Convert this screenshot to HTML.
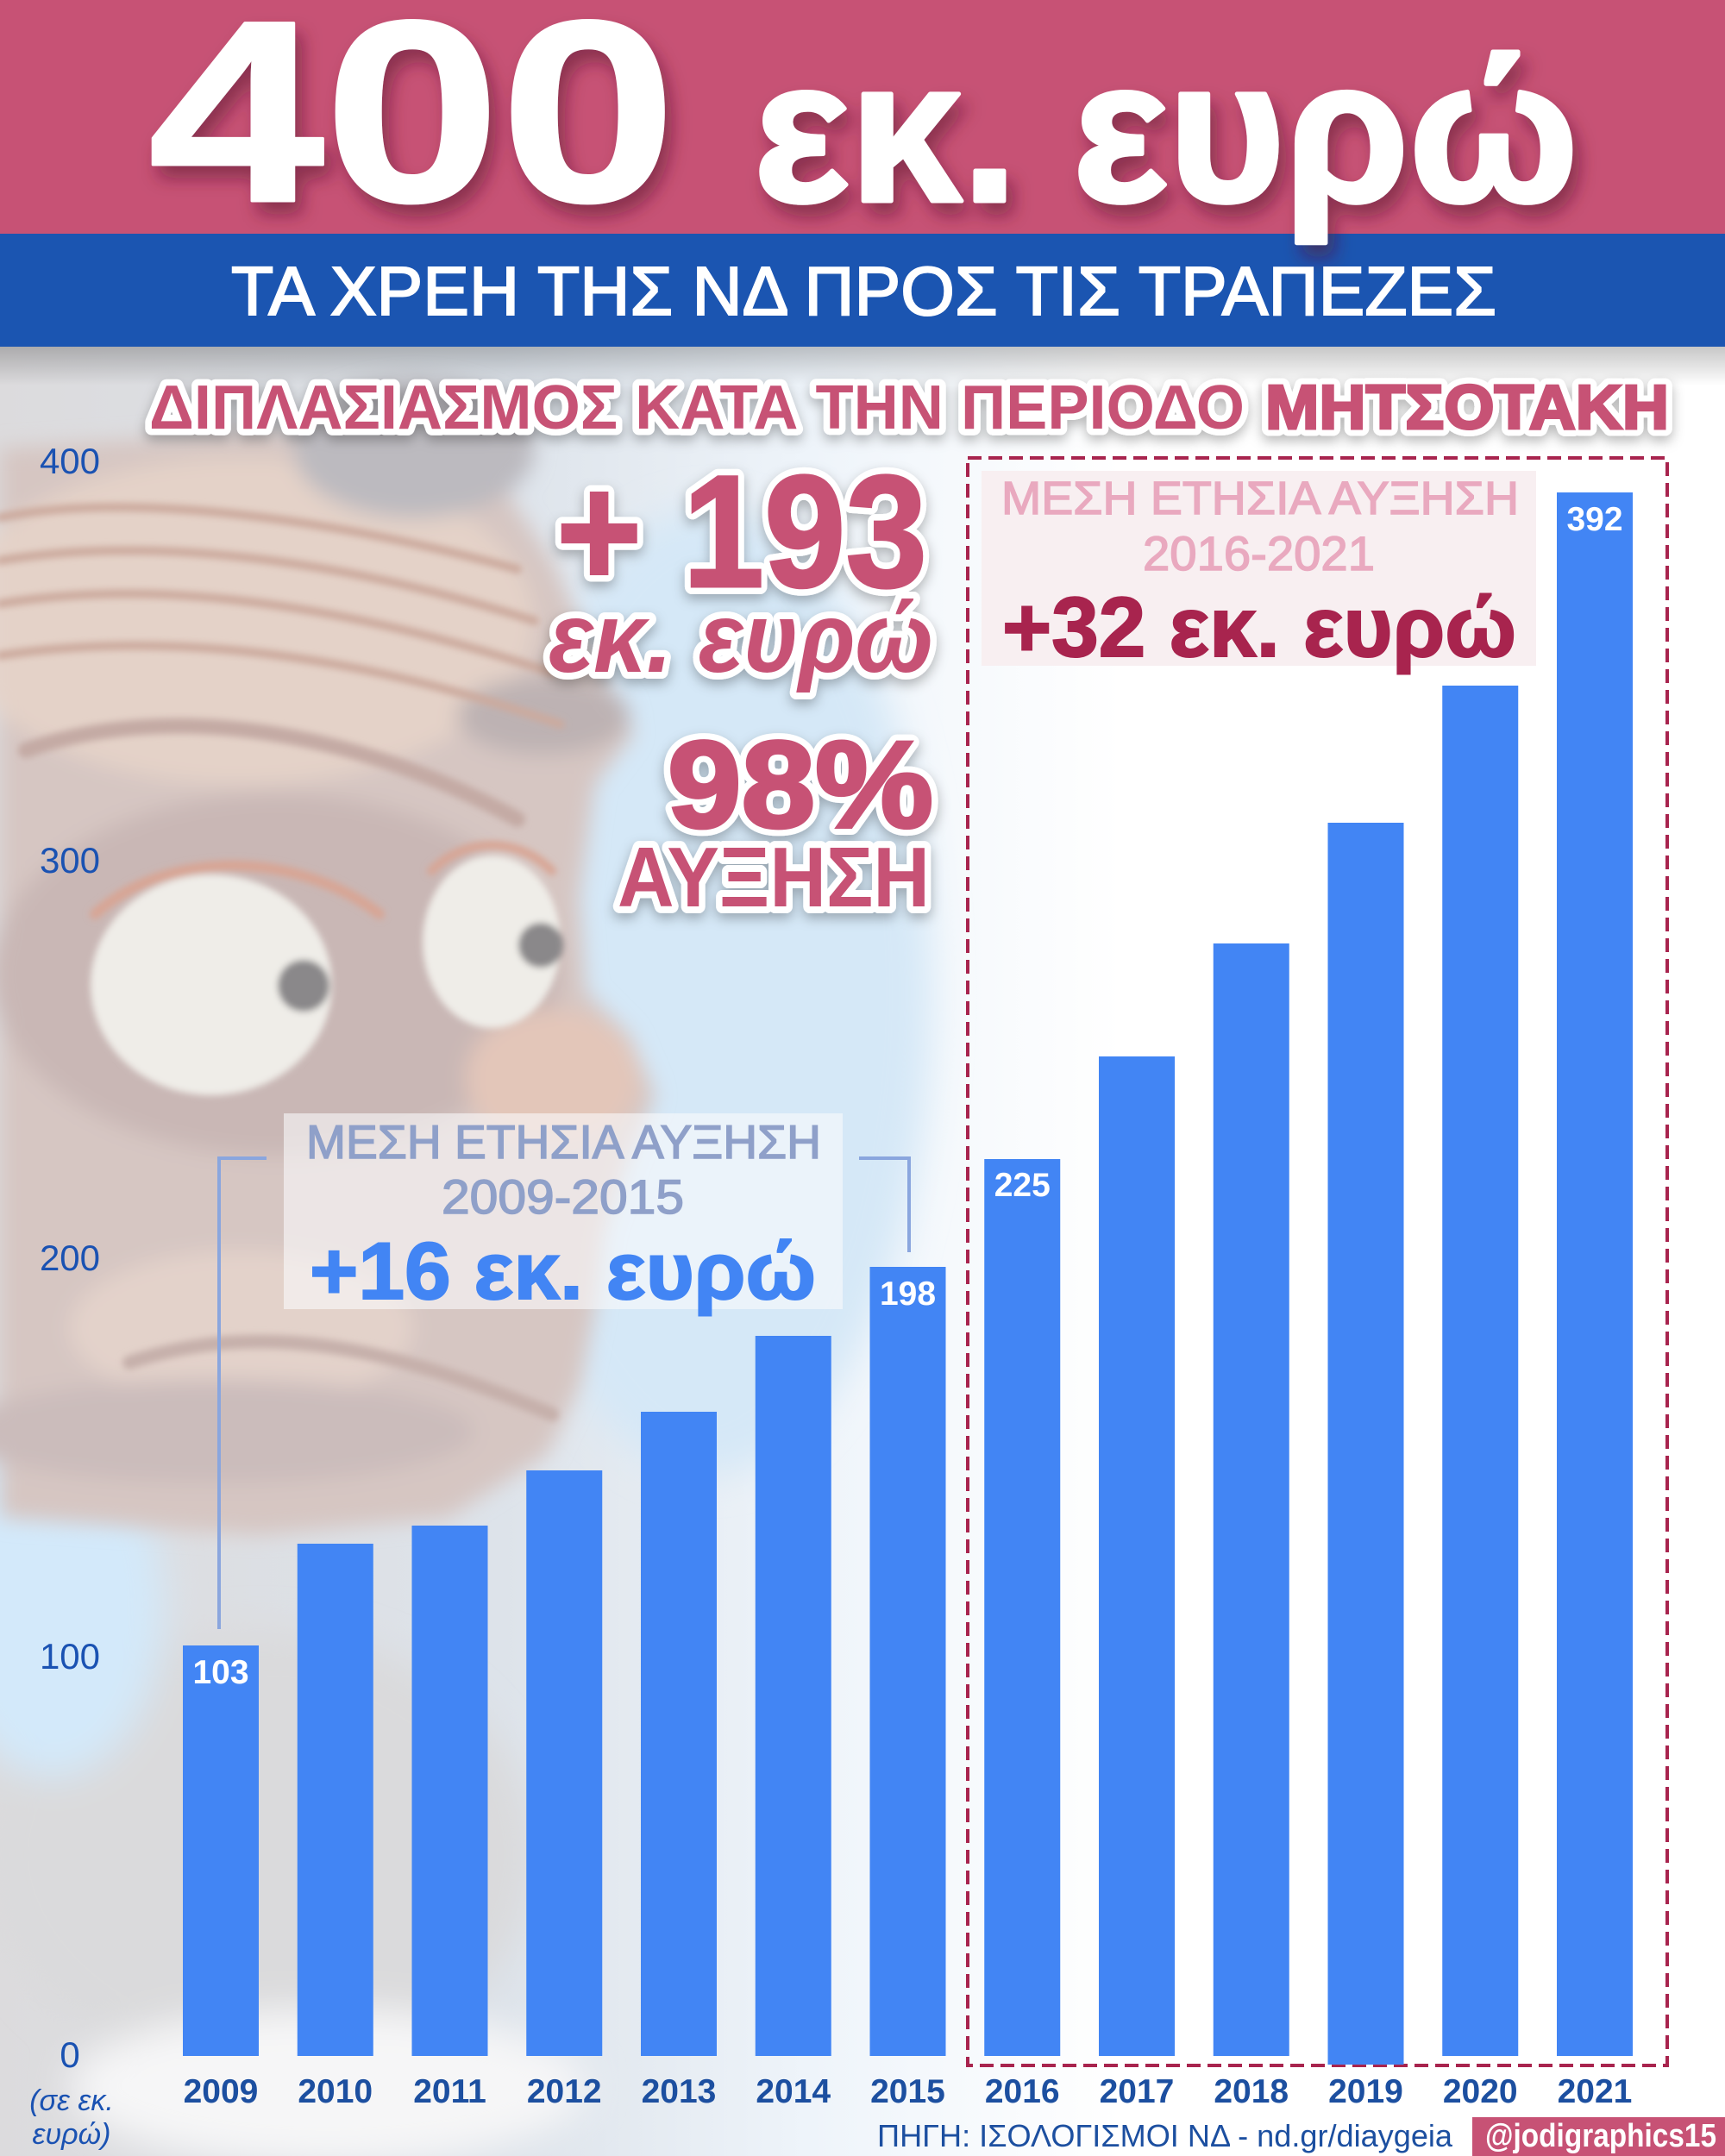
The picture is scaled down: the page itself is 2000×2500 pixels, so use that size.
<!DOCTYPE html>
<html>
<head>
<meta charset="utf-8">
<style>
html,body{margin:0;padding:0;background:#fff;}
svg{display:block;}
text{font-family:"Liberation Sans","DejaVu Sans",sans-serif;}
</style>
</head>
<body>
<svg xmlns="http://www.w3.org/2000/svg" width="2000" height="2500" viewBox="0 0 2000 2500">
<defs>
  <filter id="bl" x="-30%" y="-30%" width="160%" height="160%"><feGaussianBlur stdDeviation="22"/></filter>
  <filter id="bl3" x="-30%" y="-30%" width="160%" height="160%"><feGaussianBlur stdDeviation="12"/></filter>
  <filter id="bl2" x="-30%" y="-30%" width="160%" height="160%"><feGaussianBlur stdDeviation="4"/></filter>
  <filter id="sh" x="-10%" y="-30%" width="120%" height="180%"><feDropShadow dx="0" dy="6" stdDeviation="7" flood-color="#000" flood-opacity="0.28"/></filter>
  <filter id="tsh" x="-10%" y="-20%" width="120%" height="160%"><feDropShadow dx="8" dy="14" stdDeviation="10" flood-color="#5a1030" flood-opacity="0.55"/></filter>
  <linearGradient id="bgH" x1="0" y1="0" x2="1" y2="0">
    <stop offset="0" stop-color="#dcdbdd"/>
    <stop offset="0.45" stop-color="#dde3ea"/>
    <stop offset="0.72" stop-color="#eef4fa"/>
    <stop offset="1" stop-color="#ffffff"/>
  </linearGradient>
  <linearGradient id="shd" x1="0" y1="0" x2="0" y2="1">
    <stop offset="0" stop-color="#000" stop-opacity="0.22"/>
    <stop offset="1" stop-color="#000" stop-opacity="0"/>
  </linearGradient>
</defs>

<!-- background -->
<rect x="0" y="0" width="2000" height="2500" fill="#ffffff"/>
<rect x="0" y="402" width="1300" height="2098" fill="url(#bgH)"/>
<g filter="url(#bl)">
  <ellipse cx="820" cy="1150" rx="260" ry="560" fill="#d5e8f7"/>
  <ellipse cx="300" cy="2150" rx="320" ry="260" fill="#dadadc"/>
  <ellipse cx="60" cy="1860" rx="130" ry="200" fill="#d3e9fa"/>
  <ellipse cx="380" cy="2420" rx="300" ry="90" fill="#f6f6f7"/>
</g>
<g filter="url(#bl3)">
  <path d="M0 520 L300 500 L560 530 L640 650 L690 760 L735 850 L690 910 L672 1040 L680 1150 L730 1200 L760 1270 L730 1340 L700 1430 L690 1520 L673 1605 L635 1686 L520 1760 L300 1780 L0 1760 Z" fill="#d6c6c2"/>
  <ellipse cx="280" cy="720" rx="340" ry="190" fill="#e6d3c9" opacity="0.85"/>
  <ellipse cx="480" cy="520" rx="140" ry="80" fill="#bcbabf"/>
  <ellipse cx="630" cy="830" rx="100" ry="45" fill="#bdb2b3"/>
  <ellipse cx="320" cy="1130" rx="330" ry="210" fill="#c9b7b5"/>
  <ellipse cx="640" cy="1250" rx="100" ry="80" fill="#e3c6b9"/>
  <ellipse cx="280" cy="1540" rx="200" ry="90" fill="#e3d2ca"/>
  <ellipse cx="250" cy="1660" rx="300" ry="60" fill="#cbbcbb"/>
</g>
<g filter="url(#bl2)" fill="none" stroke-linecap="round">
  <path d="M0 600 C150 570 380 600 600 660" stroke="#ccaa9e" stroke-width="10"/>
  <path d="M0 650 C180 620 400 650 620 720" stroke="#ccaa9e" stroke-width="10"/>
  <path d="M0 700 C180 670 400 700 640 780" stroke="#ccaa9e" stroke-width="10"/>
  <path d="M0 760 C200 730 420 760 650 840" stroke="#ccaa9e" stroke-width="10"/>
  <path d="M30 870 C200 810 420 850 600 950" stroke="#c4aaa4" stroke-width="18"/>
  <path d="M110 1060 C200 980 350 990 440 1060" stroke="#d8a594" stroke-width="12"/>
  <path d="M500 1010 C540 970 600 970 640 1010" stroke="#d8a594" stroke-width="10"/>
  <path d="M150 1580 C300 1530 450 1560 640 1640" stroke="#c6b0ab" stroke-width="16"/>
  <ellipse cx="245" cy="1142" rx="140" ry="128" fill="#efede8" stroke="none"/>
  <ellipse cx="570" cy="1092" rx="80" ry="100" fill="#efede8" stroke="none"/>
  <circle cx="352" cy="1143" r="30" fill="#8a888a" stroke="none"/>
  <circle cx="627" cy="1096" r="26" fill="#8a888a" stroke="none"/>
</g>

<!-- header -->
<rect x="0" y="402" width="2000" height="45" fill="url(#shd)"/>
<rect x="0" y="0" width="2000" height="272" fill="#c75275"/>
<rect x="0" y="271" width="2000" height="131" fill="#1b55b1"/>
<g filter="url(#tsh)" fill="#ffffff" stroke="#ffffff" stroke-linejoin="round" font-weight="bold" style="font-family:'DejaVu Sans','Liberation Sans',sans-serif">
  <text x="172" y="233" font-size="300" stroke-width="3" textLength="612" lengthAdjust="spacingAndGlyphs">400</text>
  <text x="874" y="233" font-size="235" stroke-width="5" textLength="306" lengthAdjust="spacingAndGlyphs">εκ.</text>
  <text x="1244" y="233" font-size="235" stroke-width="5" textLength="586" lengthAdjust="spacingAndGlyphs">ευρώ</text>
</g>
<text x="268" y="365" font-size="80" fill="#ffffff" stroke="#ffffff" stroke-width="2" textLength="1467" lengthAdjust="spacingAndGlyphs">ΤΑ ΧΡΕΗ ΤΗΣ ΝΔ ΠΡΟΣ ΤΙΣ ΤΡΑΠΕΖΕΣ</text>

<!-- subtitle pink outlined -->
<g filter="url(#sh)">
  <text x="173" y="497" font-size="72" font-weight="bold" fill="#fff" stroke="#fff" stroke-width="15" stroke-linejoin="round" textLength="1270" lengthAdjust="spacingAndGlyphs">ΔΙΠΛΑΣΙΑΣΜΟΣ ΚΑΤΑ ΤΗΝ ΠΕΡΙΟΔΟ</text>
  <text x="1467" y="497" font-size="72" font-weight="bold" fill="#fff" stroke="#fff" stroke-width="17" stroke-linejoin="round" textLength="468" lengthAdjust="spacingAndGlyphs">ΜΗΤΣΟΤΑΚΗ</text>
</g>
<text x="173" y="497" font-size="72" font-weight="bold" fill="#c75275" textLength="1270" lengthAdjust="spacingAndGlyphs">ΔΙΠΛΑΣΙΑΣΜΟΣ ΚΑΤΑ ΤΗΝ ΠΕΡΙΟΔΟ</text>
<text x="1467" y="497" font-size="72" font-weight="bold" fill="#c75275" stroke="#c75275" stroke-width="3" textLength="468" lengthAdjust="spacingAndGlyphs">ΜΗΤΣΟΤΑΚΗ</text>

<!-- y axis labels -->
<g font-size="42" fill="#1a52b2" text-anchor="middle">
  <text x="81" y="549">400</text>
  <text x="81" y="1012">300</text>
  <text x="81" y="1473">200</text>
  <text x="81" y="1935">100</text>
  <text x="81" y="2397">0</text>
</g>
<g font-size="34" fill="#1a52b2" text-anchor="middle" font-style="italic">
  <text x="83" y="2447">(σε εκ.</text>
  <text x="83" y="2486">ευρώ)</text>
</g>

<!-- left big outlined texts -->
<g filter="url(#sh)" fill="#fff" stroke="#fff" stroke-linejoin="round" font-weight="bold">
  <text x="645" y="680" font-size="185" stroke-width="18" textLength="430" lengthAdjust="spacingAndGlyphs">+ 193</text>
  <text x="636" y="779" font-size="115" font-style="italic" stroke-width="16" textLength="446" lengthAdjust="spacingAndGlyphs">εκ. ευρώ</text>
  <text x="774" y="959" font-size="143" stroke-width="18" textLength="308" lengthAdjust="spacingAndGlyphs">98%</text>
  <text x="716" y="1051" font-size="98" stroke-width="16" textLength="362" lengthAdjust="spacingAndGlyphs">ΑΥΞΗΣΗ</text>
</g>
<g fill="#c75275" font-weight="bold">
  <text x="645" y="680" font-size="185" stroke="#c75275" stroke-width="3" textLength="430" lengthAdjust="spacingAndGlyphs">+ 193</text>
  <text x="636" y="779" font-size="115" font-style="italic" textLength="446" lengthAdjust="spacingAndGlyphs">εκ. ευρώ</text>
  <text x="774" y="959" font-size="143" stroke="#c75275" stroke-width="4" textLength="308" lengthAdjust="spacingAndGlyphs">98%</text>
  <text x="716" y="1051" font-size="98" textLength="362" lengthAdjust="spacingAndGlyphs">ΑΥΞΗΣΗ</text>
</g>

<!-- left annotation box -->
<rect x="329" y="1291" width="648" height="227" fill="#fafafc" fill-opacity="0.6"/>
<text x="355" y="1343" font-size="55" fill="#8fa0c9" stroke="#8fa0c9" stroke-width="1.5" textLength="597" lengthAdjust="spacingAndGlyphs">ΜΕΣΗ ΕΤΗΣΙΑ ΑΥΞΗΣΗ</text>
<text x="512" y="1407" font-size="56" fill="#8fa0c9" stroke="#8fa0c9" stroke-width="1.5" textLength="281" lengthAdjust="spacingAndGlyphs">2009-2015</text>
<text x="359" y="1506" font-size="94" font-weight="bold" fill="#4285f4" stroke="#4285f4" stroke-width="2" textLength="587" lengthAdjust="spacingAndGlyphs">+16 εκ. ευρώ</text>
<g stroke="#8aa6de" stroke-width="4" fill="none">
  <polyline points="309,1343 254,1343 254,1889"/>
  <polyline points="996,1343 1054,1343 1054,1452"/>
</g>

<!-- right annotation box -->
<rect x="1138" y="546" width="643" height="226" fill="#f8eff1"/>
<text x="1161" y="596" font-size="54" fill="#e9a9bf" stroke="#e9a9bf" stroke-width="1.5" textLength="600" lengthAdjust="spacingAndGlyphs">ΜΕΣΗ ΕΤΗΣΙΑ ΑΥΞΗΣΗ</text>
<text x="1325" y="661" font-size="56" fill="#e9a9bf" stroke="#e9a9bf" stroke-width="1.5" textLength="269" lengthAdjust="spacingAndGlyphs">2016-2021</text>
<text x="1162" y="761" font-size="98" font-weight="bold" fill="#a8244e" stroke="#a8244e" stroke-width="2" textLength="596" lengthAdjust="spacingAndGlyphs">+32 εκ. ευρώ</text>

<!-- dashed box -->
<rect x="1122" y="531" width="811" height="1864" fill="none" stroke="#a8244e" stroke-width="4" stroke-dasharray="16 8"/>

<!-- bars -->
<g fill="#4285f4">
  <rect x="212" y="1908" width="88" height="476"/>
  <rect x="344.75" y="1790" width="88" height="594"/>
  <rect x="477.5" y="1769" width="88" height="615"/>
  <rect x="610.25" y="1705" width="88" height="679"/>
  <rect x="743" y="1637" width="88" height="747"/>
  <rect x="875.75" y="1549" width="88" height="835"/>
  <rect x="1008.5" y="1469" width="88" height="915"/>
  <rect x="1141.25" y="1344" width="88" height="1040"/>
  <rect x="1274" y="1225" width="88" height="1159"/>
  <rect x="1406.75" y="1094" width="88" height="1290"/>
  <rect x="1539.5" y="954" width="88" height="1440"/>
  <rect x="1672.25" y="795" width="88" height="1589"/>
  <rect x="1805" y="571" width="88" height="1813"/>
</g>

<!-- bar value labels -->
<g font-size="39" font-weight="bold" fill="#ffffff" text-anchor="middle">
  <text x="256" y="1952">103</text>
  <text x="1052.5" y="1513">198</text>
  <text x="1185.25" y="1387">225</text>
  <text x="1849" y="615">392</text>
</g>

<!-- year labels -->
<g font-size="39" font-weight="bold" fill="#1c4fa0" text-anchor="middle">
  <text x="256" y="2438">2009</text>
  <text x="388.75" y="2438">2010</text>
  <text x="521.5" y="2438">2011</text>
  <text x="654.25" y="2438">2012</text>
  <text x="787" y="2438">2013</text>
  <text x="919.75" y="2438">2014</text>
  <text x="1052.5" y="2438">2015</text>
  <text x="1185.25" y="2438">2016</text>
  <text x="1318" y="2438">2017</text>
  <text x="1450.75" y="2438">2018</text>
  <text x="1583.5" y="2438">2019</text>
  <text x="1716.25" y="2438">2020</text>
  <text x="1849" y="2438">2021</text>
</g>

<!-- footer -->
<text x="1017" y="2489" font-size="36" fill="#1c4fa0" textLength="667" lengthAdjust="spacingAndGlyphs">ΠΗΓΗ: ΙΣΟΛΟΓΙΣΜΟΙ ΝΔ - nd.gr/diaygeia</text>
<rect x="1707" y="2455" width="293" height="45" fill="#c75275"/>
<text x="1722" y="2489" font-size="38" font-weight="bold" fill="#ffffff" textLength="268" lengthAdjust="spacingAndGlyphs">@jodigraphics15</text>
</svg>
</body>
</html>
